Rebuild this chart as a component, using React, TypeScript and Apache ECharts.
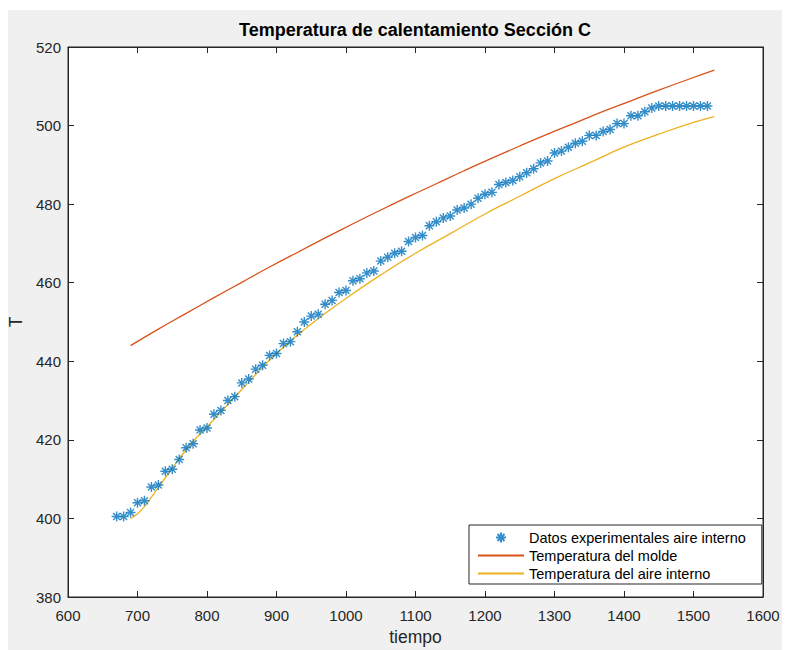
import React, { useEffect, useRef } from "react";
import * as echarts from "echarts";

// Experimental readings of the internal air (tiempo, T)
const expTime = [
  670, 680, 690, 700, 710, 720, 730, 740, 750, 760, 770, 780, 790, 800, 810, 820, 830, 840, 850, 860,
  870, 880, 890, 900, 910, 920, 930, 940, 950, 960, 970, 980, 990, 1000, 1010, 1020, 1030, 1040, 1050, 1060,
  1070, 1080, 1090, 1100, 1110, 1120, 1130, 1140, 1150, 1160, 1170, 1180, 1190, 1200, 1210, 1220, 1230, 1240, 1250, 1260,
  1270, 1280, 1290, 1300, 1310, 1320, 1330, 1340, 1350, 1360, 1370, 1380, 1390, 1400, 1410, 1420, 1430, 1440, 1450, 1460,
  1470, 1480, 1490, 1500, 1510, 1520,
];
const expTemp = [
  400.5, 400.5, 401.5, 404, 404.5, 408, 408.5, 412, 412.5, 415, 418, 419, 422.5, 423, 426.5, 427.5, 430, 431, 434.5, 435.5,
  438, 439, 441.5, 442, 444.5, 445, 447.5, 450, 451.5, 452, 454.5, 455.5, 457.5, 458, 460.5, 461, 462.5, 463, 465.5, 466.5,
  467.5, 468, 470.5, 471.5, 472, 474.5, 475.5, 476.5, 477, 478.5, 479, 480, 481.5, 482.5, 483, 485, 485.5, 486, 487, 488,
  489, 490.5, 491, 493, 493.5, 494.5, 495.5, 496, 497.5, 497.5, 498.5, 499, 500.5, 500.5, 502.5, 502.5, 503.5, 504.5, 505, 505,
  505, 505, 505, 505, 505, 505,
];

// Mould temperature curve
const moldeTime = [
  690, 730, 770, 810, 850, 890, 930, 970, 1010, 1050, 1090, 1130, 1170, 1210, 1250, 1290, 1330, 1370, 1410, 1450, 1490, 1530,
];
const moldeTemp = [
  444.0, 448.2, 452.2, 456.2, 460.1, 464.0, 467.7, 471.4, 475.0, 478.5, 481.9, 485.2, 488.5, 491.7, 494.8, 497.8, 500.7,
  503.6, 506.3, 509.0, 511.6, 514.1,
];

// Internal air temperature curve
const aireTime = [
  690, 700, 710, 720, 740, 760, 780, 800, 850, 900, 950, 1000, 1050, 1100, 1150, 1200, 1250, 1300, 1350, 1400, 1450, 1500, 1530,
];
const aireTemp = [
  400, 401.2, 403, 405.4, 410.3, 415.2, 419.6, 423.3, 432.8, 442, 449.5, 456, 462, 467.5, 472.5, 477.5, 482, 486.5, 490.5,
  494.5, 497.8, 500.8, 502.3,
];

const xTicks = [600, 700, 800, 900, 1000, 1100, 1200, 1300, 1400, 1500, 1600];
const yTicks = [380, 400, 420, 440, 460, 480, 500, 520];

const seriesNames = [
  "Datos experimentales aire interno",
  "Temperatura del molde",
  "Temperatura del aire interno",
];

const BLUE = "#0072BD";
const ORANGE = "#D95319";
const YELLOW = "#EDB120";
const AXIS = "#262626";
const FONT = "Liberation Sans, Arial, Helvetica, sans-serif";

// eight-armed asterisk marker
const STAR = "path://M5,0L5,10M0,5L10,5M1.5,1.5L8.5,8.5M1.5,8.5L8.5,1.5";

const zip = (xs: number[], ys: number[]) => xs.map((x, i) => [x, ys[i]]);
const plain = (v: number) => String(v);

export default function App() {
  const ref = useRef<HTMLDivElement>(null);

  useEffect(() => {
    if (!ref.current) return;
    const chart = echarts.init(ref.current, undefined, { renderer: "svg" });

    const xMin = xTicks[0];
    const xMax = xTicks[xTicks.length - 1];
    const yMin = yTicks[0];
    const yMax = yTicks[yTicks.length - 1];

    const axisCommon = {
      type: "value" as const,
      interval: 100,
      axisLine: { show: true, lineStyle: { color: AXIS, width: 1 } },
      axisTick: { show: true, inside: true, length: 6, lineStyle: { color: AXIS } },
      splitLine: { show: false },
    };

    chart.setOption({
      animation: false,
      backgroundColor: "#f0f0f0",
      textStyle: { fontFamily: FONT },
      title: {
        text: "Temperatura de calentamiento Sección C",
        left: 407,
        top: 11,
        textAlign: "center",
        padding: 0,
        textStyle: { fontFamily: FONT, fontSize: 18, fontWeight: "bold", color: "#000" },
      },
      grid: {
        left: 60,
        right: 19,
        top: 37,
        bottom: 53,
        outerBoundsMode: "none",
        containLabel: false,
        show: true,
        backgroundColor: "#ffffff",
        borderColor: AXIS,
        borderWidth: 1,
      },
      legend: {
        orient: "vertical",
        left: 461,
        top: 515,
        data: [
          { name: seriesNames[0] },
          { name: seriesNames[1], itemStyle: { opacity: 0 } },
          { name: seriesNames[2], itemStyle: { opacity: 0 } },
        ],
        backgroundColor: "#ffffff",
        borderColor: AXIS,
        borderWidth: 1,
        borderRadius: 0,
        padding: [5, 16, 3, 8],
        itemWidth: 46,
        itemHeight: 10,
        itemGap: 3,
        selectedMode: false,
        textStyle: { fontFamily: FONT, fontSize: 14.5, color: "#000", lineHeight: 14 },
      },
      xAxis: [
        {
          ...axisCommon,
          min: xMin,
          max: xMax,
          position: "bottom",
          name: "tiempo",
          nameLocation: "middle",
          nameGap: 29,
          nameTextStyle: { fontFamily: FONT, fontSize: 17.5, color: AXIS },
          axisLabel: { show: true, margin: 11, color: AXIS, fontSize: 15, fontFamily: FONT, formatter: plain },
        },
        {
          ...axisCommon,
          min: xMin,
          max: xMax,
          position: "top",
          axisLabel: { show: false },
        },
      ],
      yAxis: [
        {
          ...axisCommon,
          interval: 20,
          min: yMin,
          max: yMax,
          position: "left",
          name: "T",
          nameLocation: "middle",
          nameGap: 38,
          nameTextStyle: { fontFamily: FONT, fontSize: 17.5, color: AXIS },
          axisLabel: { show: true, margin: 7, color: AXIS, fontSize: 15, fontFamily: FONT, formatter: plain },
        },
        {
          ...axisCommon,
          interval: 20,
          min: yMin,
          max: yMax,
          position: "right",
          axisLabel: { show: false },
        },
      ],
      series: [
        {
          name: seriesNames[0],
          type: "scatter",
          data: zip(expTime, expTemp),
          symbol: STAR,
          symbolSize: 10,
          symbolKeepAspect: true,
          itemStyle: { color: BLUE, borderColor: BLUE, borderWidth: 1.4 },
          z: 3,
        },
        {
          name: seriesNames[1],
          type: "line",
          data: zip(moldeTime, moldeTemp),
          smooth: true,
          symbol: "none",
          lineStyle: { color: ORANGE, width: 1.3 },
          itemStyle: { color: ORANGE },
          z: 2,
        },
        {
          name: seriesNames[2],
          type: "line",
          data: zip(aireTime, aireTemp),
          smooth: true,
          symbol: "none",
          lineStyle: { color: YELLOW, width: 1.3 },
          itemStyle: { color: YELLOW },
          z: 2,
        },
      ],
    });

    return () => chart.dispose();
  }, []);

  return (
    <div
      ref={ref}
      style={{ position: "absolute", left: 8, top: 10, width: 774, height: 640 }}
    />
  );
}
